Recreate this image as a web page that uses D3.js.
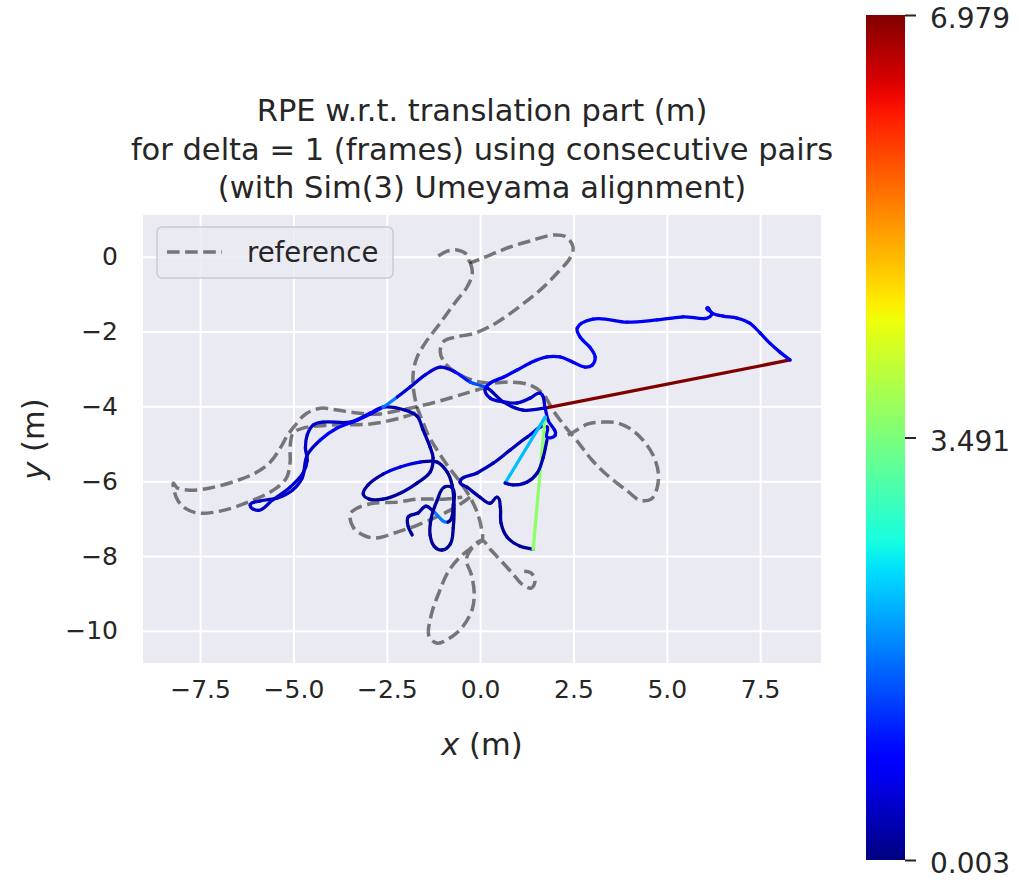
<!DOCTYPE html>
<html><head><meta charset="utf-8">
<script src="https://cdn.jsdelivr.net/npm/d3@7"></script>
<style>body{margin:0;background:#fff;} text{font-family:"DejaVu Sans",sans-serif;fill:#262626;}</style>
</head><body><svg id="c" width="1019" height="884"></svg>
<script>
const titleLines=["RPE w.r.t. translation part (m)","for delta = 1 (frames) using consecutive pairs","(with Sim(3) Umeyama alignment)"];
const xTickVals=[-7.5,-5.0,-2.5,0.0,2.5,5.0,7.5];
const yTickVals=[0,-2,-4,-6,-8,-10];
const cbarTicks=[0.003,3.491,6.979];
const rpeMin=0.003, rpeMax=6.979;

const refA_x=[-1.12,-0.88,-0.62,-0.37,-0.27,0.00,0.40,0.80,1.34,1.95,2.30,2.49,2.41,2.09,1.61,1.07,0.46,-0.13,-0.67,-0.96,-1.07,-0.96,-0.67,-0.21,0.27,0.80,1.34,1.69,1.95,2.22,2.60,3.00,3.43,3.94,4.28,4.58,4.74,4.77,4.63,4.36,4.07,3.67,3.29,2.89,2.49,2.28];
const refA_y=[0.02,0.15,0.18,0.07,-0.14,-0.06,0.10,0.26,0.42,0.58,0.53,0.26,-0.03,-0.41,-0.89,-1.32,-1.75,-2.04,-2.15,-2.25,-2.52,-2.82,-3.08,-3.30,-3.38,-3.35,-3.43,-3.67,-4.10,-4.47,-4.93,-5.44,-5.86,-6.26,-6.51,-6.48,-6.18,-5.76,-5.30,-4.90,-4.63,-4.44,-4.42,-4.47,-4.69,-4.80];
const refB_x=[-0.27,-0.21,-0.35,-0.62,-0.88,-1.15,-1.42,-1.69,-1.79,-1.79,-1.69,-1.55,-1.39,-1.15,-0.86,-0.54,-0.27,-0.08,0.03,0.05,-0.21,-0.54,-0.86,-1.10,-1.31,-1.37,-1.15,-0.78,-0.46,-0.21,-0.16,-0.24,-0.37,-0.24,0.05,0.27,0.59,0.88,1.12,1.37,1.47,1.37,1.18];
const refB_y=[-0.14,-0.44,-0.81,-1.16,-1.51,-1.88,-2.23,-2.69,-3.09,-3.49,-4.02,-4.37,-4.77,-5.17,-5.60,-6.02,-6.43,-6.83,-7.23,-7.58,-7.76,-8.03,-8.43,-8.97,-9.58,-10.14,-10.33,-10.17,-9.88,-9.42,-8.97,-8.48,-8.11,-7.82,-7.58,-7.82,-8.16,-8.48,-8.75,-8.86,-8.67,-8.46,-8.41];
const refC_x=[-0.27,-0.62,-1.07,-1.69,-2.22,-2.81,-3.13,-3.40,-3.48,-3.29,-2.86,-2.22,-1.69,-0.99,-0.48];
const refC_y=[-6.43,-6.67,-6.91,-7.18,-7.36,-7.52,-7.44,-7.23,-6.88,-6.72,-6.59,-6.56,-6.48,-6.48,-6.43];
const refD_x=[0.19,-0.35,-0.99,-1.61,-2.14,-2.73,-3.29,-3.83,-4.28,-4.68,-4.95,-5.17,-5.35,-5.62,-6.02,-6.56,-7.23,-7.76,-8.11,-8.22,-8.14,-7.95,-7.58,-6.96,-6.21,-5.54,-5.19,-5.09,-5.09,-5.01,-4.74,-4.02,-2.94,-2.14,-1.61];
const refD_y=[-3.48,-3.64,-3.83,-3.99,-4.10,-4.21,-4.18,-4.10,-4.05,-4.21,-4.50,-4.79,-5.11,-5.49,-5.78,-6.00,-6.18,-6.24,-6.18,-6.05,-6.43,-6.69,-6.85,-6.80,-6.56,-6.24,-5.92,-5.49,-5.09,-4.72,-4.58,-4.50,-4.47,-4.31,-4.13];

const estX=[-1.82,-1.93,-1.93,-1.66,-1.45,-1.26,-0.86,-0.72,-0.75,-0.96,-1.15,-1.31,-1.34,-1.23,-1.02,-0.80,-0.72,-0.70,-0.75,-0.88,-1.15,-1.61,-2.14,-2.60,-3.00,-3.13,-2.97,-2.60,-2.14,-1.69,-1.34,-1.26,-1.34,-1.53,-1.69,-2.01,-2.60,-2.94,-3.48,-4.20,-4.47,-4.63,-4.68,-4.63,-4.74,-5.09,-5.57,-5.94,-6.16,-5.89,-5.43,-5.03,-4.77,-4.63,-4.28,-3.83,-3.29,-2.60,-2.22,-1.87,-1.47,-1.07,-0.67,-0.27,0.19,0.62,1.15,1.74,8.30,8.03,7.76,7.50,7.23,6.88,6.51,6.21,6.08,6.21,5.43,4.74,3.94,3.02,2.60,2.68,2.94,3.08,3.00,2.81,2.49,2.14,1.79,1.34,0.99,0.62,0.27,0.13,0.27,0.62,0.99,1.34,1.61,1.74,1.82,2.01,1.79,1.79,1.26,0.80,0.35,-0.08,-0.54,-0.35,0.00,0.27,0.46,0.54,0.56,0.72,1.07,1.42,1.74,0.67,0.88,1.26,1.53,1.69,1.79];
const estY=[-7.44,-7.20,-6.96,-6.85,-6.67,-6.80,-7.09,-6.64,-6.18,-6.16,-6.51,-6.99,-7.44,-7.74,-7.84,-7.68,-7.25,-6.64,-6.11,-5.76,-5.49,-5.49,-5.62,-5.81,-6.10,-6.35,-6.48,-6.48,-6.32,-6.05,-5.76,-5.38,-5.09,-4.63,-4.26,-4.10,-4.02,-4.18,-4.42,-4.42,-4.50,-4.76,-5.11,-5.44,-5.78,-6.16,-6.51,-6.78,-6.64,-6.53,-6.45,-6.24,-5.92,-5.30,-4.90,-4.58,-4.37,-4.02,-3.75,-3.48,-3.16,-2.95,-3.08,-3.35,-3.51,-3.88,-4.10,-4.05,-2.76,-2.55,-2.31,-2.04,-1.78,-1.64,-1.59,-1.51,-1.37,-1.53,-1.61,-1.69,-1.75,-1.67,-1.91,-2.15,-2.42,-2.68,-2.90,-2.95,-2.82,-2.68,-2.68,-2.84,-3.03,-3.22,-3.38,-3.56,-3.78,-3.88,-3.91,-3.78,-3.65,-4.05,-4.37,-4.77,-4.82,-4.55,-4.82,-5.17,-5.52,-5.78,-6.02,-6.16,-6.43,-6.59,-6.43,-6.69,-7.12,-7.49,-7.74,-7.82,-4.29,-6.05,-6.10,-6.02,-5.78,-5.36,-4.90];
const estRPE=[0.2,0.2,0.2,0.2,0.2,1.7,
0.15,0.15,0.15,0.15,0.15,0.15,0.15,0.15,0.15,0.15,0.15,0.15,0.15,
0.2,0.2,0.6,0.6,0.2,0.2,0.2,0.2,0.2,0.2,0.2,0.2,0.2,0.3,0.3,0.3,0.3,
0.45,0.45,0.45,0.45,0.45,0.45,0.45,0.45,0.45,0.45,0.45,0.45,0.45,0.45,0.45,0.45,0.45,0.45,0.8,0.8,0.8,
1.7,0.5,0.5,0.5,0.5,1.0,1.4,0.4,0.4,0.4,6.979,
0.7,0.7,0.7,0.7,0.7,0.7,0.7,0.7,0.7,0.7,0.7,0.7,0.7,0.7,0.7,0.7,0.7,0.7,0.7,0.7,0.7,0.7,0.7,0.7,0.7,0.7,0.7,
0.5,0.5,0.5,0.5,0.5,0.5,
0.6,0.6,0.6,0.6,0.6,
0.35,0.35,0.35,0.35,0.35,0.2,0.2,0.2,0.2,0.2,0.2,0.2,0.2,
3.63,2.18,0.3,0.3,0.3,0.3,0.3];

const svg=d3.select("#c");
const L=143,R=821,T=215,B=663;
const x=d3.scaleLinear().domain([-9.03,9.13]).range([L,R]);
const y=d3.scaleLinear().domain([-10.86,1.115]).range([B,T]);

// jet colormap (matplotlib)
const jr=d3.scaleLinear().domain([0,0.35,0.66,0.89,1]).range([0,0,1,1,0.5]).clamp(true);
const jg=d3.scaleLinear().domain([0,0.125,0.375,0.64,0.91,1]).range([0,0,1,1,0,0]).clamp(true);
const jb=d3.scaleLinear().domain([0,0.11,0.34,0.65,1]).range([0.5,1,1,0,0]).clamp(true);
const norm=d3.scaleLinear().domain([rpeMin,rpeMax]).range([0,1]).clamp(true);
const jet=v=>{const t=norm(v);return d3.rgb(jr(t)*255,jg(t)*255,jb(t)*255).formatHex();};

svg.append("rect").attr("x",L).attr("y",T).attr("width",R-L).attr("height",B-T).attr("fill","#EAEAF2");
const gx=d3.axisBottom(x).tickValues(xTickVals).tickSize(-(B-T)).tickFormat(d3.format(".1f")).tickPadding(17);
const gy=d3.axisLeft(y).tickValues(yTickVals).tickSize(-(R-L)).tickFormat(d3.format("d")).tickPadding(25);
const ax=svg.append("g").attr("transform",`translate(0,${B})`).call(gx);
const ay=svg.append("g").attr("transform",`translate(${L},0)`).call(gy);
[ax,ay].forEach(g=>{g.select(".domain").remove();g.selectAll(".tick line").attr("stroke","#fff").attr("stroke-width",2);
  g.selectAll(".tick text").attr("font-size",25).attr("font-family","DejaVu Sans").attr("fill","#262626");});
ax.selectAll(".tick text").attr("dy","0.71em");

svg.append("clipPath").attr("id","pc").append("rect").attr("x",L).attr("y",T).attr("width",R-L).attr("height",B-T);
const plot=svg.append("g").attr("clip-path","url(#pc)");

// reference (dashed, black at half opacity)
const line=d3.line().x(d=>x(d[0])).y(d=>y(d[1])).curve(d3.curveCatmullRom.alpha(0.5));
[[refA_x,refA_y],[refB_x,refB_y],[refC_x,refC_y],[refD_x,refD_y]].forEach(([xs,ys])=>{
  plot.append("path").attr("d",line(xs.map((v,i)=>[v,ys[i]]))).attr("fill","none")
   .attr("stroke","#000").attr("stroke-opacity",0.5).attr("stroke-width",3.5).attr("stroke-dasharray","12.6,5.5").attr("stroke-linejoin","round");
});

// estimate coloured by RPE: each segment a smooth cubic piece
const n=Math.min(estX.length,estY.length);
const P=d3.range(n).map(i=>[x(estX[i]),y(estY[i])]);
const segLen=i=>Math.hypot(P[i+1][0]-P[i][0],P[i+1][1]-P[i][1]);
const unit=i=>{const l=segLen(i)||1;return [(P[i+1][0]-P[i][0])/l,(P[i+1][1]-P[i][1])/l];};
const LONG=70;
const tang=i=>{
  let a=(i>0&&segLen(i-1)<LONG)?unit(i-1):null, b=(i<n-1&&segLen(i)<LONG)?unit(i):null;
  if(!a&&!b) return [0,0];
  if(!a) return b; if(!b) return a;
  let t=[a[0]+b[0],a[1]+b[1]],l=Math.hypot(t[0],t[1]);
  return l<1e-6?b:[t[0]/l,t[1]/l];
};
for(let i=0;i<n-1;i++){
  const v=estRPE[Math.min(i,estRPE.length-1)];
  const p0=P[i],p1=P[i+1],len=segLen(i);
  let d;
  if(len>=LONG){ d=`M${p0}L${p1}`; }
  else{
    const t0=tang(i),t1=tang(i+1);
    const c1=[p0[0]+t0[0]*len/3,p0[1]+t0[1]*len/3],c2=[p1[0]-t1[0]*len/3,p1[1]-t1[1]*len/3];
    d=`M${p0}C${c1} ${c2} ${p1}`;
  }
  plot.append("path").attr("d",d).attr("fill","none")
   .attr("stroke",jet(v)).attr("stroke-width",3.3).attr("stroke-linecap","round");
}

// legend
const lg=svg.append("g");
lg.append("rect").attr("x",157).attr("y",227).attr("width",236).attr("height",51).attr("rx",5)
  .attr("fill","#EAEAF2").attr("fill-opacity",0.8).attr("stroke","#cccccc").attr("stroke-width",1.5);
lg.append("line").attr("x1",167).attr("x2",222).attr("y1",252).attr("y2",252).attr("stroke","#000").attr("stroke-opacity",0.5)
  .attr("stroke-width",3.5).attr("stroke-dasharray","12.6,5.5");
lg.append("text").attr("x",247).attr("y",262).attr("font-size",27.5).text("reference");

// title
svg.append("g").selectAll("text").data(titleLines).join("text")
  .attr("x",482).attr("y",(d,i)=>121+i*38.5).attr("text-anchor","middle").attr("font-size",30.5).text(d=>d);

// axis labels
const xl=svg.append("text").attr("x",482).attr("y",755).attr("text-anchor","middle").attr("font-size",30.5);
xl.append("tspan").attr("font-style","italic").text("x");xl.append("tspan").text(" (m)");
const yl=svg.append("text").attr("transform",`translate(44,${(T+B)/2}) rotate(-90)`).attr("text-anchor","middle").attr("font-size",30.5);
yl.append("tspan").attr("font-style","italic").text("y");yl.append("tspan").text(" (m)");

// colorbar
const cbX=866,cbW=39,cbT=15,cbB=860;
const grad=svg.append("defs").append("linearGradient").attr("id","jetg").attr("x1",0).attr("x2",0).attr("y1",1).attr("y2",0);
d3.range(0,1.0001,0.02).forEach(t=>grad.append("stop").attr("offset",t).attr("stop-color",jet(rpeMin+t*(rpeMax-rpeMin))));
svg.append("rect").attr("x",cbX).attr("y",cbT).attr("width",cbW).attr("height",cbB-cbT).attr("fill","url(#jetg)");
const cy=d3.scaleLinear().domain([rpeMin,rpeMax]).range([cbB,cbT]);
const cax=svg.append("g").attr("transform",`translate(${cbX+cbW},0)`).call(d3.axisRight(cy).tickValues(cbarTicks).tickFormat(d3.format(".3f")).tickSize(11).tickPadding(14));
cax.select(".domain").remove();
cax.selectAll(".tick line").attr("stroke","#262626").attr("stroke-width",2);
cax.selectAll(".tick text").attr("font-size",28).attr("font-family","DejaVu Sans").attr("fill","#262626").attr("dy","0.45em");
</script></body></html>
